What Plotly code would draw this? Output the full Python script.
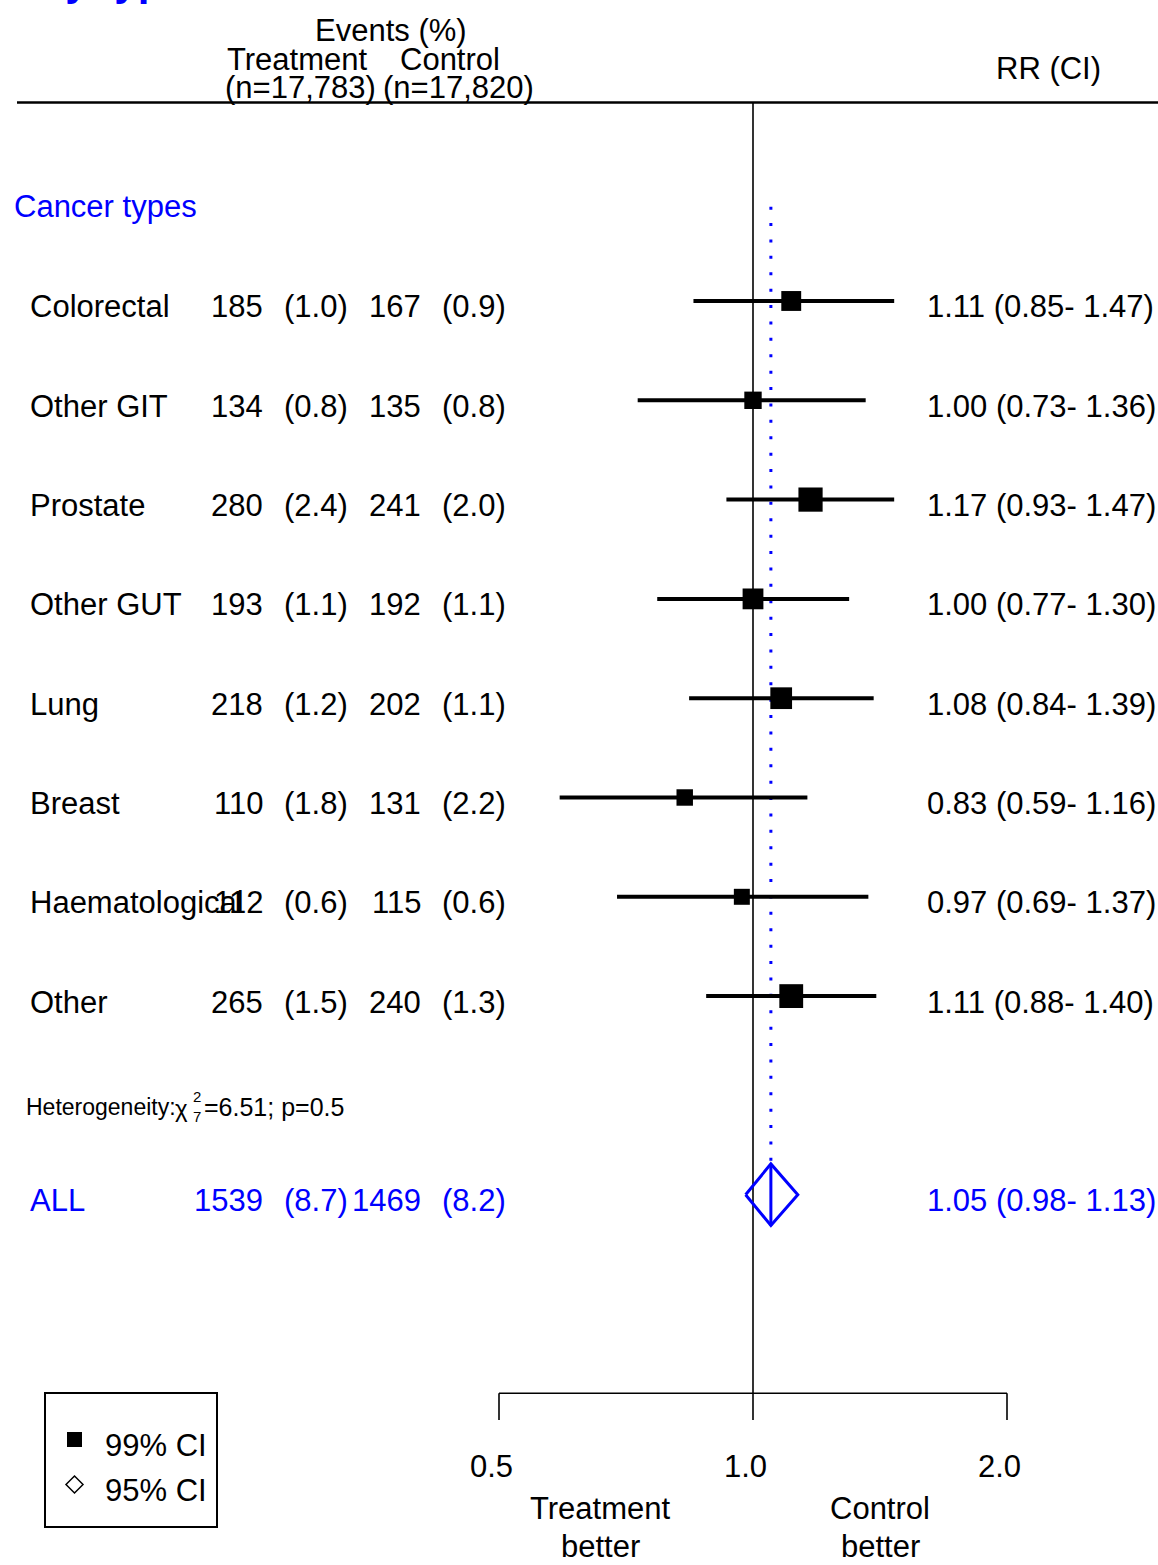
import math
import plotly.graph_objects as go

# ---- data -------------------------------------------------------------
categories = ["Colorectal", "Other GIT", "Prostate", "Other GUT", "Lung",
              "Breast", "Haematological", "Other"]
trt_events = [185, 134, 280, 193, 218, 110, 112, 265]
trt_pct = [1.0, 0.8, 2.4, 1.1, 1.2, 1.8, 0.6, 1.5]
ctl_events = [167, 135, 241, 192, 202, 131, 115, 240]
ctl_pct = [0.9, 0.8, 2.0, 1.1, 1.1, 2.2, 0.6, 1.3]
rr = [1.11, 1.00, 1.17, 1.00, 1.08, 0.83, 0.97, 1.11]
rr_lo = [0.85, 0.73, 0.93, 0.77, 0.84, 0.59, 0.69, 0.88]
rr_hi = [1.47, 1.36, 1.47, 1.30, 1.39, 1.16, 1.37, 1.40]

all_trt_events, all_trt_pct = 1539, 8.7
all_ctl_events, all_ctl_pct = 1469, 8.2
all_rr, all_lo, all_hi = 1.05, 0.98, 1.13

n_treatment, n_control = "17,783", "17,820"
het_chi2, het_df, het_p = 6.51, 7, 0.5

tick_vals = [0.5, 1.0, 2.0]
tick_labels = ["0.5", "1.0", "2.0"]

# ---- page geometry ----------------------------------------------------
W, H = 1158, 1565
BLUE = "#0000FF"
FONT = "Liberation Sans, Arial, sans-serif"
FS = 31

# row units on the y axis (row 0 = first cancer type)
ROW_ALL = len(categories) + 1
ROW_HET = len(categories) + 0.12
ROW_AXIS = 11.0
Y_RANGE = [12.729, -3.031]
X_RANGE = [-0.89243, 0.47999]   # log10 range


def px_x(p):
    return p / W


def px_y(p):
    return 1 - p / H


fig = go.Figure()
ann = []
shapes = []


def text(s, x, y, anchor="left", size=FS, color="black", yref="y",
         yshift=-6, xshift=0, family=FONT):
    ann.append(dict(text=s, x=x, y=y, xref="paper", yref=yref,
                    xanchor=anchor, yanchor="middle", showarrow=False,
                    xshift=xshift, yshift=yshift,
                    font=dict(size=size, color=color, family=family)))


# ---- header -----------------------------------------------------------
text("Events (%)", px_x(391), px_y(30), "center", yref="paper", yshift=0)
text("Treatment", px_x(297), px_y(59), "center", yref="paper", yshift=0)
text("Control", px_x(450), px_y(59), "center", yref="paper", yshift=0)
text(f"(n={n_treatment})", px_x(300), px_y(88), "center", yref="paper", yshift=0)
text(f"(n={n_control})", px_x(458), px_y(88), "center", yref="paper", yshift=0)
text("RR (CI)", px_x(1048), px_y(68), "center", yref="paper", yshift=0)
shapes.append(dict(type="line", xref="paper", yref="y", x0=px_x(17), x1=1,
                   y0=-2, y1=-2, line=dict(color="black", width=2.5)))

# panel title running off the top edge
ann.append(dict(text="<b>By type</b>", x=px_x(33), y=px_y(6), xref="paper",
                yref="paper", xanchor="left", yanchor="bottom", showarrow=False,
                font=dict(size=42, color=BLUE, family=FONT)))

text("Cancer types", px_x(12), -0.95, color=BLUE, yshift=0)

# ---- rows -------------------------------------------------------------
for i, cat in enumerate(categories):
    text(cat, px_x(28), i)
    text(str(trt_events[i]), px_x(265), i, "right")
    text(f"({trt_pct[i]:.1f})", px_x(282), i)
    text(str(ctl_events[i]), px_x(423), i, "right")
    text(f"({ctl_pct[i]:.1f})", px_x(440), i)
    text(f"{rr[i]:.2f} ({rr_lo[i]:.2f}- {rr_hi[i]:.2f})", px_x(925), i)

text("ALL", px_x(28), ROW_ALL, color=BLUE)
text(str(all_trt_events), px_x(265), ROW_ALL, "right", color=BLUE)
text(f"({all_trt_pct:.1f})", px_x(282), ROW_ALL, color=BLUE)
text(str(all_ctl_events), px_x(423), ROW_ALL, "right", color=BLUE)
text(f"({all_ctl_pct:.1f})", px_x(440), ROW_ALL, color=BLUE)
text(f"{all_rr:.2f} ({all_lo:.2f}- {all_hi:.2f})", px_x(925), ROW_ALL, color=BLUE)

# heterogeneity line: chi-square with stacked sub/superscript
text("Heterogeneity:", px_x(24), ROW_HET, size=23, yshift=0)
text("\u03c7", px_x(181), ROW_HET, "center", size=24, yshift=-1)
text(str(2), px_x(197), ROW_HET, "center", size=15, yshift=11)
text(str(het_df), px_x(197), ROW_HET, "center", size=15, yshift=-9)
text(f"={het_chi2:.2f}; p={het_p}", px_x(202), ROW_HET, size=25, yshift=0)

# ---- reference line at RR = 1 ------------------------------------------
fig.add_trace(go.Scatter(x=[1.0, 1.0], y=[-2, ROW_AXIS], mode="lines",
                         line=dict(color="black", width=1.6),
                         hoverinfo="skip"))

# dotted line at the overall estimate
fig.add_trace(go.Scatter(x=[all_rr, all_rr], y=[-0.95, ROW_ALL - 0.32],
                         mode="lines",
                         line=dict(color=BLUE, width=3, dash="3px,13.4px"),
                         hoverinfo="skip"))

# confidence interval segments
ci_x, ci_y = [], []
for i in range(len(categories)):
    ci_x += [rr_lo[i], rr_hi[i], None]
    ci_y += [i, i, None]
fig.add_trace(go.Scatter(x=ci_x, y=ci_y, mode="lines",
                         line=dict(color="black", width=4), hoverinfo="skip"))

# boxes: area proportional to number of events
box_size = [1.06 * math.sqrt(t + c) for t, c in zip(trt_events, ctl_events)]
fig.add_trace(go.Scatter(x=rr, y=list(range(len(categories))), mode="markers",
                         marker=dict(symbol="square", size=box_size,
                                     color="black", opacity=1,
                                     line=dict(width=0)),
                         hoverinfo="skip"))

# overall diamond
dh = 0.31
fig.add_trace(go.Scatter(x=[all_lo, all_rr, all_hi, all_rr, all_lo],
                         y=[ROW_ALL, ROW_ALL - dh, ROW_ALL, ROW_ALL + dh, ROW_ALL],
                         mode="lines", line=dict(color=BLUE, width=3),
                         hoverinfo="skip"))
fig.add_trace(go.Scatter(x=[all_rr, all_rr], y=[ROW_ALL - dh, ROW_ALL + dh],
                         mode="lines", line=dict(color=BLUE, width=3),
                         hoverinfo="skip"))

# ---- bottom scale -------------------------------------------------------
ax_x, ax_y = [tick_vals[0], tick_vals[-1], None], [ROW_AXIS, ROW_AXIS, None]
for t in tick_vals:
    ax_x += [t, t, None]
    ax_y += [ROW_AXIS, ROW_AXIS + 0.27, None]
fig.add_trace(go.Scatter(x=ax_x, y=ax_y, mode="lines",
                         line=dict(color="black", width=1.6),
                         hoverinfo="skip"))
for t, lab in zip(tick_vals, tick_labels):
    ann.append(dict(text=lab, x=math.log10(t), y=px_y(1466), xref="x",
                    yref="paper", xanchor="center", yanchor="middle",
                    xshift=-8, showarrow=False,
                    font=dict(size=FS, color="black", family=FONT)))

text("Treatment", px_x(600), px_y(1508), "center", yref="paper", yshift=0)
text("better", px_x(600), px_y(1546), "center", yref="paper", yshift=0)
text("Control", px_x(880), px_y(1508), "center", yref="paper", yshift=0)
text("better", px_x(880), px_y(1546), "center", yref="paper", yshift=0)

# ---- key ------------------------------------------------------------------
shapes.append(dict(type="rect", xref="paper", yref="paper",
                   x0=px_x(45), x1=px_x(217), y0=px_y(1527), y1=px_y(1393),
                   line=dict(color="black", width=2), fillcolor="rgba(0,0,0,0)"))
shapes.append(dict(type="rect", xref="paper", yref="paper",
                   x0=px_x(67), x1=px_x(82), y0=px_y(1447), y1=px_y(1432),
                   fillcolor="black", line=dict(width=0)))
dpath = "M {:.5f},{:.5f} L {:.5f},{:.5f} L {:.5f},{:.5f} L {:.5f},{:.5f} Z".format(
    px_x(66), px_y(1484.5), px_x(74.5), px_y(1476), px_x(83), px_y(1484.5),
    px_x(74.5), px_y(1493))
shapes.append(dict(type="path", xref="paper", yref="paper", path=dpath,
                   line=dict(color="black", width=1.5)))
text("99% CI", px_x(103), px_y(1445), yref="paper", yshift=0)
text("95% CI", px_x(103), px_y(1490), yref="paper", yshift=0)

fig.update_layout(
    width=W, height=H, margin=dict(l=0, r=0, t=0, b=0),
    paper_bgcolor="white", plot_bgcolor="white", showlegend=False,
    xaxis=dict(type="log", range=X_RANGE, visible=False, fixedrange=True),
    yaxis=dict(range=Y_RANGE, visible=False, fixedrange=True),
    annotations=ann, shapes=shapes,
)

fig.write_html("out.html")
